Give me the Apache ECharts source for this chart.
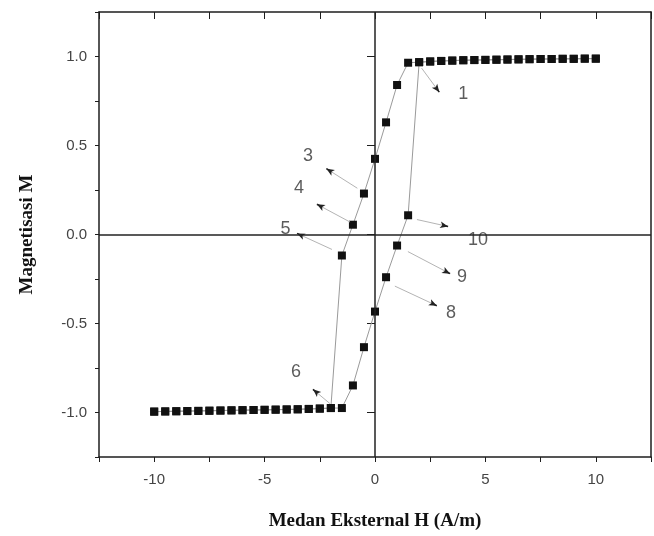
<!DOCTYPE html>
<html>
<head>
<meta charset="utf-8">
<script src="https://cdn.jsdelivr.net/npm/echarts@6/dist/echarts.min.js"></script>
<style>
  html, body { margin: 0; padding: 0; background: #ffffff; }
  #chart { width: 654px; height: 536px; }
</style>
</head>
<body>
<div id="chart"></div>
<script>
// Hysteresis loop: magnetisation M against external field H (A/m)

// saturated plateau at positive field (H = 2.0 ... 10)
const topPlateauH = [2.0, 2.5, 3.0, 3.5, 4.0, 4.5, 5.0, 5.5, 6.0, 6.5, 7.0, 7.5, 8.0, 8.5, 9.0, 9.5, 10.0];
const topPlateauM = [0.968, 0.972, 0.975, 0.977, 0.979, 0.980, 0.981, 0.982, 0.983, 0.984, 0.985, 0.986, 0.986, 0.987, 0.987, 0.988, 0.988];

// saturated plateau at negative field (H = -10 ... -2.0)
const bottomPlateauH = [-10.0, -9.5, -9.0, -8.5, -8.0, -7.5, -7.0, -6.5, -6.0, -5.5, -5.0, -4.5, -4.0, -3.5, -3.0, -2.5, -2.0];
const bottomPlateauM = [-0.995, -0.994, -0.993, -0.992, -0.991, -0.990, -0.989, -0.988, -0.987, -0.986, -0.985, -0.984, -0.983, -0.982, -0.980, -0.978, -0.975];

// rising branch between the plateaus (increasing H)
const riseH = [-1.5, -1.0, -0.5, 0.0, 0.5, 1.0, 1.5];
const riseM = [-0.118, 0.055, 0.230, 0.425, 0.630, 0.840, 0.965];

// falling branch between the plateaus (decreasing H)
const fallH = [1.5, 1.0, 0.5, 0.0, -0.5, -1.0, -1.5];
const fallM = [0.108, -0.062, -0.240, -0.433, -0.633, -0.848, -0.975];

// axis ticks
const xTicksMajor = [-10, -5, 0, 5, 10];
const yTicksMajor = [-1.0, -0.5, 0.0, 0.5, 1.0];

// numbered callouts: text, text position, arrow tail (near point), arrow head
const noteText = ['1', '3', '4', '5', '6', '8', '9', '10'];
const noteAt   = [[4.00, 0.79], [-3.03, 0.44], [-3.44, 0.26], [-4.05, 0.03], [-3.58, -0.77], [3.44, -0.44], [3.94, -0.24], [4.66, -0.03]];
const noteTail = [[2.11, 0.935], [-0.80, 0.26], [-1.13, 0.07], [-1.95, -0.084], [-2.04, -0.95], [0.90, -0.29], [1.49, -0.096], [1.90, 0.084]];
const noteHead = [[2.91, 0.80], [-2.20, 0.37], [-2.63, 0.17], [-3.53, 0.006], [-2.81, -0.87], [2.80, -0.40], [3.40, -0.22], [3.31, 0.045]];

const zip = (xs, ys) => xs.map((x, i) => [x, ys[i]]);
const ascending = zip(bottomPlateauH, bottomPlateauM)
  .concat(zip(riseH, riseM))
  .concat(zip(topPlateauH, topPlateauM));
const descending = zip(topPlateauH, topPlateauM).reverse()
  .concat(zip(fallH, fallM))
  .concat(zip(bottomPlateauH, bottomPlateauM).reverse());

const AXIS = '#1e1e1e';
const sans = "'Liberation Sans', Arial, sans-serif";
const serif = "'Liberation Serif', 'Times New Roman', serif";

// arrow segments: a faint shaft plus a short dark head
const arrowLines = [];
noteTail.forEach((t, i) => {
  const h = noteHead[i];
  arrowLines.push([
    { coord: t, symbol: 'none', lineStyle: { color: '#b4b4b4', width: 1 } },
    { coord: h, symbol: 'none' }
  ]);
  const pre = [h[0] - (h[0] - t[0]) * 0.12, h[1] - (h[1] - t[1]) * 0.12];
  arrowLines.push([
    { coord: pre, symbol: 'none', lineStyle: { color: '#222', width: 1.5 } },
    { coord: h, symbol: 'arrow', symbolSize: [5, 8] }
  ]);
});

const chart = echarts.init(document.getElementById('chart'), null, { renderer: 'canvas' });

const option = {
  animation: false,
  backgroundColor: '#ffffff',
  grid: { left: 99, right: 3, top: 12, bottom: 79, containLabel: false },
  xAxis: [
    {
      type: 'value', position: 'bottom', min: -12.5, max: 12.5, interval: 2.5,
      axisLine: { onZero: false, lineStyle: { color: AXIS, width: 1.5 } },
      axisTick: { length: 5, lineStyle: { color: AXIS, width: 1 } },
      axisLabel: {
        margin: 15, fontSize: 15, color: '#444', fontFamily: sans,
        formatter: v => (xTicksMajor.indexOf(v) >= 0 ? String(v) : '')
      },
      splitLine: { show: false },
      name: 'Medan Eksternal H (A/m)', nameLocation: 'middle', nameGap: 55,
      nameTextStyle: { fontFamily: serif, fontWeight: 'bold', fontSize: 19, color: '#111' }
    },
    {
      type: 'value', position: 'top', min: -12.5, max: 12.5, interval: 2.5,
      axisLine: { onZero: false, lineStyle: { color: AXIS, width: 1.5 } },
      axisTick: { inside: true, length: 7, lineStyle: { color: AXIS, width: 1 } },
      axisLabel: { show: false },
      splitLine: { show: false }
    }
  ],
  yAxis: [
    {
      type: 'value', position: 'left', min: -1.25, max: 1.25, interval: 0.25,
      axisLine: { onZero: false, lineStyle: { color: AXIS, width: 1.5 } },
      axisTick: { length: 4, lineStyle: { color: AXIS, width: 1 } },
      axisLabel: { show: false },
      splitLine: { show: false },
      name: 'Magnetisasi M', nameLocation: 'middle', nameGap: 62, nameRotate: 90,
      nameTextStyle: { fontFamily: serif, fontWeight: 'bold', fontSize: 19, color: '#111' }
    },
    {
      type: 'value', position: 'left', min: -1.25, max: 1.25,
      axisLine: { show: false },
      axisTick: { customValues: yTicksMajor, length: 8, lineStyle: { color: AXIS, width: 1 } },
      axisLabel: {
        customValues: yTicksMajor, margin: 12, fontSize: 15, color: '#444', fontFamily: sans,
        formatter: v => v.toFixed(1)
      },
      splitLine: { show: false }
    },
    {
      type: 'value', position: 'right', min: -1.25, max: 1.25,
      axisLine: { onZero: false, lineStyle: { color: AXIS, width: 1.5 } },
      axisTick: { show: false },
      axisLabel: { show: false },
      splitLine: { show: false }
    }
  ],
  series: [
    {
      name: 'zero', type: 'line', data: [], silent: true,
      markLine: {
        silent: true, symbol: 'none', animation: false,
        label: { show: false },
        lineStyle: { color: '#222', width: 1.5, type: 'solid' },
        data: [{ xAxis: 0 }, { yAxis: 0 }]
      }
    },
    {
      name: 'arrows', type: 'line', data: [], silent: true,
      markLine: {
        silent: true, animation: false,
        label: { show: false },
        lineStyle: { type: 'solid' },
        data: arrowLines
      }
    },
    {
      name: 'descending', type: 'line', data: descending,
      symbol: 'rect', symbolSize: 8,
      lineStyle: { color: '#9a9a9a', width: 1 },
      itemStyle: { color: '#111' }, z: 3
    },
    {
      name: 'ascending', type: 'line', data: ascending,
      symbol: 'rect', symbolSize: 8,
      lineStyle: { color: '#9a9a9a', width: 1 },
      itemStyle: { color: '#111' }, z: 3
    },
    {
      name: 'notes', type: 'scatter', silent: true,
      data: noteAt.map((p, i) => ({ value: p, name: noteText[i] })),
      symbol: 'circle', symbolSize: 1,
      itemStyle: { color: 'rgba(0,0,0,0)' },
      label: {
        show: true, position: 'inside', formatter: p => p.name,
        fontFamily: sans, fontSize: 18, color: '#333'
      }, z: 4
    }
  ]
};

chart.setOption(option);
</script>
</body>
</html>
